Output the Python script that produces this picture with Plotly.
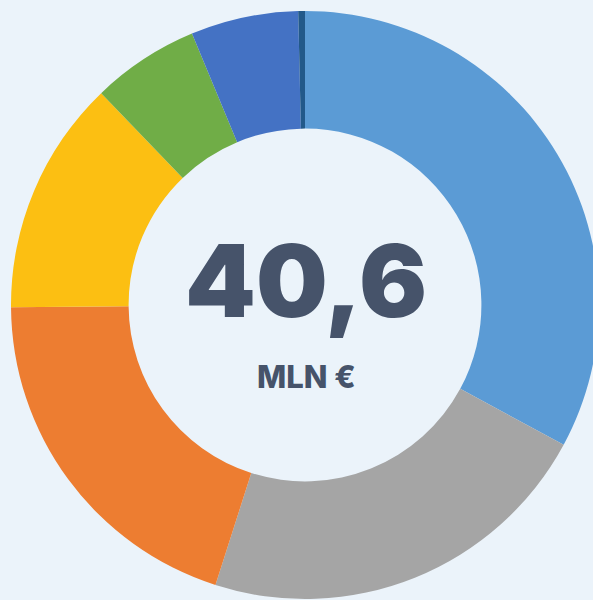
import plotly.graph_objects as go

labels = ["A", "B", "C", "D", "E", "F", "G"]
values = [13.35, 8.95, 8.1, 5.25, 2.4, 2.4, 0.15]
colors = ["#5B9BD5", "#A5A5A5", "#ED7D31", "#FCBF12", "#70AD47", "#4472C4", "#22598A"]
total_label = "40,6"
unit_label = "MLN €"

BG = "#EBF3FA"
W = H = 610
cx, cy, r = 305, 305, 294

fig = go.Figure(go.Pie(
    labels=labels, values=values, sort=False, direction="clockwise", rotation=0,
    hole=0.6, marker=dict(colors=colors, line=dict(width=0)),
    textinfo="none", hoverinfo="none", showlegend=False,
    domain=dict(x=[(cx - r) / W, (cx + r) / W], y=[1 - (cy + r) / H, 1 - (cy - r) / H]),
))

fig.add_annotation(text=total_label, x=306 / W, y=1 - 280 / H, xref="paper", yref="paper",
                   showarrow=False, xanchor="center", yanchor="middle",
                   font=dict(family="Inter", size=101, color="#46536A", weight=900))
fig.add_annotation(text=unit_label, x=306 / W, y=1 - 376 / H, xref="paper", yref="paper",
                   showarrow=False, xanchor="center", yanchor="middle",
                   font=dict(family="Inter", size=31, color="#46536A", weight=800))

fig.update_layout(width=W, height=H, margin=dict(l=0, r=0, t=0, b=0),
                  paper_bgcolor=BG, plot_bgcolor=BG)

fig.write_html("out.html", config={"displayModeBar": False}, post_script=(
    "document.body.style.margin='0';document.body.style.overflow='hidden';"
    "document.documentElement.style.overflow='hidden';"
    "document.body.style.background='" + BG + "';"))
